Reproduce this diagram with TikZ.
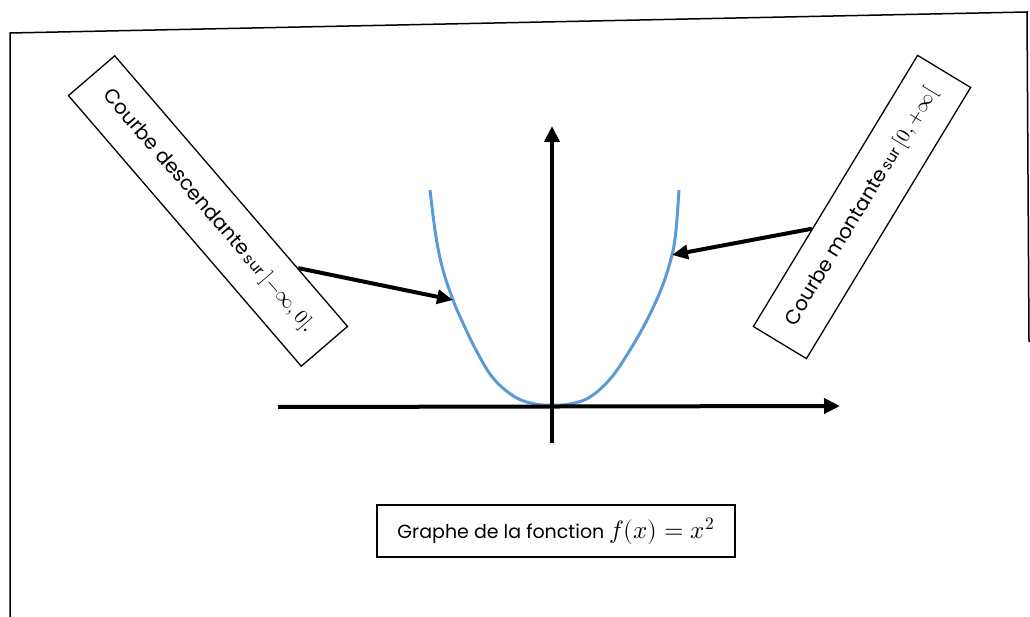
\documentclass[tikz,border=0pt]{standalone}
\usepackage{fontspec}
\usepackage{unicode-math}
\setmainfont{Poppins}
\setmathfont{Latin Modern Math}
\usetikzlibrary{arrows.meta,calc}
\begin{document}
\begin{tikzpicture}[x=1pt,y=-1pt,
  axisline/.style={line width=4pt,-{Triangle[length=16pt,width=15pt]}},
  callout/.style={line width=4pt,-{Triangle[length=16pt,width=14pt]}},
  labelbox/.style={draw,line width=1.3pt,inner sep=0pt,align=center},
  curvestyle/.style={line width=3pt,color=curveblue}]
\definecolor{curveblue}{HTML}{5B9BD5}
\useasboundingbox (0,0) rectangle (1030,617);
% frame
\draw[line width=1.5pt] (10,617) -- (10,33) -- (1027,12) -- (1029,342);
% curve
\draw[curvestyle] plot[smooth,tension=0.6] coordinates {
  (430,190) (436,237) (443,270) (453,300) (462,321) (476,350) (493,378)
  (515,397) (535,404) (552,405) (570,404) (590,397) (611,378) (630,350)
  (647,320) (662,287) (672,255) (676,230) (679,190)};
% axes
\coordinate (xs) at (278,407);
\coordinate (xe) at (840,406);
\coordinate (ys) at (552,443);
\coordinate (ye) at (552,126);
\draw[axisline] (xs) -- (xe);
\draw[axisline] (ys) -- (ye);
% callout boxes
\node[labelbox,minimum width=357pt,minimum height=61pt,rotate=-49.3] (lb) at (208,211)
  {{\fontsize{20}{24}\selectfont Courbe descendante} {\fontsize{15}{18}\selectfont sur {\fontsize{20}{24}\selectfont$]{-\infty},0]$.}}};
\node[labelbox,minimum width=317pt,minimum height=62pt,rotate=58.8] (rb) at (862,207)
  {{\fontsize{20}{24}\selectfont Courbe montante} {\fontsize{15}{18}\selectfont sur {\fontsize{20}{24}\selectfont$[0,+\infty[$}}};
\node[labelbox,minimum width=358pt,minimum height=52pt] (cap) at (556,531)
  {{\fontsize{19}{22}\selectfont Graphe de la fonction {\fontsize{25}{28}\selectfont$f(x)=x^2$}}};
% connectors
\coordinate (lt) at (453,300);
\coordinate (rt) at (672,255);
\draw[callout] ($(lb.north west)!0.785!(lb.north east)$) -- (lt);
\draw[callout] ($(rb.north west)!0.36!(rb.north east)$) -- (rt);
\end{tikzpicture}
\end{document}
